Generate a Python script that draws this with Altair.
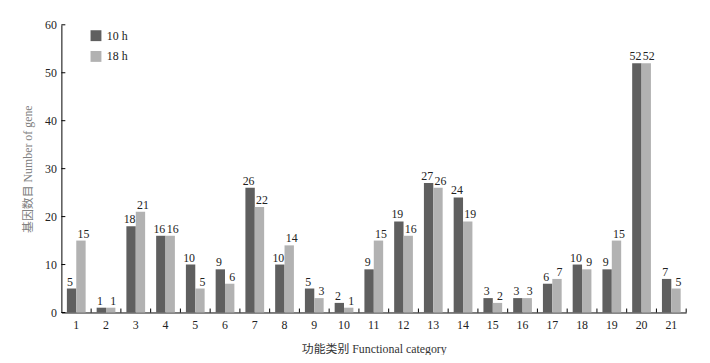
import altair as alt
import pandas as pd

categories = [str(i) for i in range(1, 22)]
h10 = [5, 1, 18, 16, 10, 9, 26, 10, 5, 2, 9, 19, 27, 24, 3, 3, 6, 10, 9, 52, 7]
h18 = [15, 1, 21, 16, 5, 6, 22, 14, 3, 1, 15, 16, 26, 19, 2, 3, 7, 9, 15, 52, 5]
series = ["10 h", "18 h"]
y_ticks = [0, 10, 20, 30, 40, 50, 60]
boundaries = list(range(1, 22))

rows = []
for c, a, b in zip(categories, h10, h18):
    rows.append({"cat": c, "series": "10 h", "value": a})
    rows.append({"cat": c, "series": "18 h", "value": b})
df = pd.DataFrame(rows)

FONT = "'Liberation Serif', 'Times New Roman', 'Noto Sans CJK SC', serif"
W, H = 632, 291

xscale = alt.Scale(domain=categories, paddingInner=0.37, paddingOuter=0.185)
yscale = alt.Scale(domain=[0, 60], nice=False)
cscale = alt.Scale(domain=series, range=["#5f5f5f", "#b2b2b2"])

xaxis = alt.Axis(title="功能类别 Functional category", labelAngle=0, ticks=False,
                 domainColor="black", labelFont=FONT, labelFontSize=12,
                 labelColor="#222222", labelPadding=7, titleFont=FONT,
                 titleFontSize=12, titleFontWeight="normal", titleColor="#333333",
                 titlePadding=13)
yaxis = alt.Axis(title="基因数目 Number of gene", values=y_ticks, ticks=False,
                 grid=False, domainColor="black", labelFont=FONT, labelFontSize=12,
                 labelColor="#222222", labelPadding=5, titleFont=FONT,
                 titleFontSize=12, titleFontWeight="normal", titleColor="#808080",
                 titlePadding=10)

base = alt.Chart(df).encode(
    x=alt.X("cat:N", scale=xscale, sort=categories, axis=xaxis),
    xOffset=alt.XOffset("series:N", scale=alt.Scale(domain=series)),
    y=alt.Y("value:Q", scale=yscale, axis=yaxis),
)

bars = base.mark_bar().encode(
    color=alt.Color("series:N", scale=cscale,
                    legend=alt.Legend(title=None, orient="none", legendX=29, legendY=5,
                                      symbolType="square", symbolSize=121,
                                      symbolStrokeWidth=0, symbolOpacity=1,
                                      labelFont=FONT, labelFontSize=12,
                                      labelColor="#222222", labelOffset=5,
                                      rowPadding=9, padding=0))
)

labels10 = base.mark_text(baseline="alphabetic", dy=-3, dx=-1.5, font=FONT, fontSize=12,
                          color="#222222").encode(text="value:Q").transform_filter(
    alt.datum.series == "10 h")
labels18 = base.mark_text(baseline="alphabetic", dy=-3, dx=2.5, font=FONT, fontSize=12,
                          color="#222222").encode(text="value:Q").transform_filter(
    alt.datum.series == "18 h")

ytick_df = pd.DataFrame({"value": y_ticks})
yticks = alt.Chart(ytick_df).mark_rule(color="black").encode(
    y=alt.Y("value:Q", scale=yscale, axis=yaxis),
    x=alt.value(0), x2=alt.value(4),
)

xtick_df = pd.DataFrame({"b": boundaries})
xticks = alt.Chart(xtick_df).mark_rule(color="black").encode(
    x=alt.X("b:Q", scale=alt.Scale(domain=[0, 21], nice=False, zero=False), axis=None),
    y=alt.Y("value:Q", scale=yscale, axis=yaxis),
    y2=alt.value(H - 4),
).transform_calculate(value="0")

main = alt.layer(bars, labels10, labels18, yticks)
chart = alt.layer(main, xticks).resolve_scale(x="independent").properties(
    width=W, height=H,
    autosize=alt.AutoSizeParams(type="none"),
    padding={"left": 54, "top": 15, "right": 16, "bottom": 41},
).configure_view(stroke=None)

chart.save("out.html", embed_options={"renderer": "svg", "actions": False})
